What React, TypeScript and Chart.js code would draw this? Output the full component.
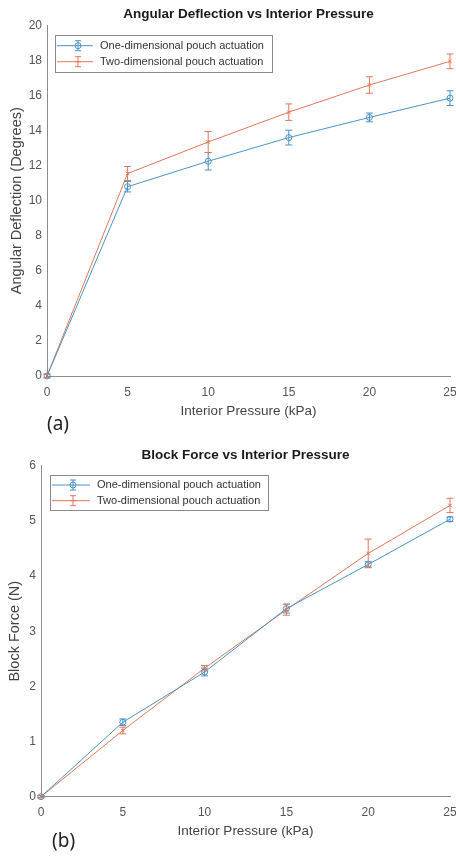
import React, { useEffect, useRef } from "react";
import { Chart, registerables } from "chart.js";
Chart.register(...registerables);

const pressure = [0, 5, 10, 15, 20, 25];
const seriesLabels = ["One-dimensional pouch actuation", "Two-dimensional pouch actuation"];

const deflection1D = [0, 10.8, 12.25, 13.6, 14.75, 15.85];
const deflection1DErr = [0.1, 0.3, 0.5, 0.42, 0.25, 0.42];
const deflection2D = [0, 11.55, 13.35, 15.05, 16.6, 17.95];
const deflection2DErr = [0.1, 0.4, 0.6, 0.47, 0.47, 0.42];

const force1D = [0, 1.35, 2.26, 3.41, 4.21, 5.03];
const force1DErr = [0.02, 0.06, 0.07, 0.08, 0.05, 0.04];
const force2D = [0, 1.2, 2.33, 3.39, 4.41, 5.28];
const force2DErr = [0.02, 0.06, 0.05, 0.1, 0.26, 0.13];

const FONT = "'Liberation Sans', Arial, sans-serif";
const BLUE = "#4a92c6";
const ORANGE = "#e0785a";
const TICK_COLOR = "#555555";
const AXIS_TITLE_COLOR = "#444444";

type ChartSpec = {
  title: string;
  yTitle: string;
  y1: number[];
  e1: number[];
  y2: number[];
  e2: number[];
  yMax: number;
  yStep: number;
  titlePad: { top: number; bottom: number };
  xAxisHeight: number;
  xTitlePadBottom: number;
  yAxisWidth: number;
  yTitlePadTop: number;
  legend: { x: number; y: number; w: number; h: number; row1: number; row2: number; lineX0: number; lineX1: number; markX: number; textX: number };
};

function buildChart(canvas: HTMLCanvasElement, spec: ChartSpec) {
  const errs = [spec.e1, spec.e2];
  const errorBarPlugin = {
    id: "errorBars",
    afterDatasetsDraw(chart: any) {
      const { ctx, scales } = chart;
      const x = scales.x;
      const y = scales.y;
      chart.data.datasets.forEach((ds: any, i: number) => {
        ctx.save();
        ctx.strokeStyle = ds.borderColor;
        ctx.lineWidth = 1;
        ds.data.forEach((p: any, j: number) => {
          const e = errs[i][j];
          const px = x.getPixelForValue(p.x);
          const top = y.getPixelForValue(p.y + e);
          const bot = y.getPixelForValue(p.y - e);
          ctx.beginPath();
          ctx.moveTo(px, top);
          ctx.lineTo(px, bot);
          ctx.moveTo(px - 3.5, top);
          ctx.lineTo(px + 3.5, top);
          ctx.moveTo(px - 3.5, bot);
          ctx.lineTo(px + 3.5, bot);
          ctx.stroke();
        });
        ctx.restore();
      });
    },
  };
  const L = spec.legend;
  const legendPlugin = {
    id: "boxLegend",
    afterDraw(chart: any) {
      const { ctx } = chart;
      ctx.save();
      ctx.fillStyle = "#ffffff";
      ctx.fillRect(L.x, L.y, L.w, L.h);
      ctx.strokeStyle = "#8a8a8a";
      ctx.lineWidth = 1;
      ctx.strokeRect(L.x + 0.5, L.y + 0.5, L.w, L.h);
      const rows = [L.row1, L.row2];
      chart.data.datasets.forEach((ds: any, i: number) => {
        const ry = rows[i];
        ctx.strokeStyle = ds.borderColor;
        ctx.lineWidth = 1;
        ctx.beginPath();
        ctx.moveTo(L.lineX0, ry);
        ctx.lineTo(L.lineX1, ry);
        ctx.moveTo(L.markX, ry - 5);
        ctx.lineTo(L.markX, ry + 5);
        ctx.moveTo(L.markX - 3, ry - 5);
        ctx.lineTo(L.markX + 3, ry - 5);
        ctx.moveTo(L.markX - 3, ry + 5);
        ctx.lineTo(L.markX + 3, ry + 5);
        ctx.stroke();
        if (i === 0) {
          ctx.beginPath();
          ctx.arc(L.markX, ry, 3, 0, Math.PI * 2);
          ctx.stroke();
        } else {
          ctx.beginPath();
          ctx.moveTo(L.markX - 3, ry);
          ctx.lineTo(L.markX + 3, ry);
          ctx.stroke();
        }
        ctx.fillStyle = "#333333";
        ctx.font = `11px ${FONT}`;
        ctx.textBaseline = "middle";
        ctx.textAlign = "left";
        ctx.fillText(ds.label, L.textX, ry);
      });
      ctx.restore();
    },
  };

  return new Chart(canvas, {
    type: "line",
    data: {
      datasets: [
        {
          label: seriesLabels[0],
          data: pressure.map((p, i) => ({ x: p, y: spec.y1[i] })),
          borderColor: BLUE,
          backgroundColor: "rgba(0,0,0,0)",
          borderWidth: 1,
          pointStyle: "circle",
          pointRadius: 3,
          pointBorderWidth: 1,
          pointBorderColor: BLUE,
          pointBackgroundColor: "rgba(0,0,0,0)",
          clip: false as any,
        },
        {
          label: seriesLabels[1],
          data: pressure.map((p, i) => ({ x: p, y: spec.y2[i] })),
          borderColor: ORANGE,
          backgroundColor: "rgba(0,0,0,0)",
          borderWidth: 1,
          pointStyle: "crossRot",
          pointRadius: 2.5,
          pointBorderWidth: 1,
          pointBorderColor: ORANGE,
          clip: false as any,
        },
      ],
    },
    options: {
      animation: false,
      responsive: false,
      maintainAspectRatio: false,
      layout: { padding: { left: 0, right: 6, top: 0, bottom: 0 } },
      plugins: {
        legend: { display: false },
        tooltip: { enabled: false },
        title: {
          display: true,
          text: spec.title,
          fullSize: false,
          color: "#1a1a1a",
          font: { family: FONT, size: 13.5, weight: "bold" },
          padding: spec.titlePad,
        },
      },
      scales: {
        x: {
          type: "linear",
          min: 0,
          max: 25,
          grid: { display: false, drawTicks: false },
          border: { display: true, color: "#8c8c8c", width: 1 },
          ticks: {
            stepSize: 5,
            padding: 9,
            color: TICK_COLOR,
            font: { family: FONT, size: 12 },
            maxRotation: 0,
          },
          title: {
            display: true,
            text: "Interior Pressure (kPa)",
            color: AXIS_TITLE_COLOR,
            font: { family: FONT, size: 13.5 },
            padding: { top: 0, bottom: spec.xTitlePadBottom },
          },
          afterFit(scale: any) {
            scale.height = spec.xAxisHeight;
            scale.paddingRight = 0;
            scale.paddingLeft = 0;
          },
        },
        y: {
          type: "linear",
          min: 0,
          max: spec.yMax,
          grid: { display: false, drawTicks: false },
          border: { display: true, color: "#8c8c8c", width: 1 },
          ticks: {
            stepSize: spec.yStep,
            padding: 5,
            color: TICK_COLOR,
            font: { family: FONT, size: 12 },
          },
          title: {
            display: true,
            text: spec.yTitle,
            color: AXIS_TITLE_COLOR,
            font: { family: FONT, size: 14.5 },
            padding: { top: spec.yTitlePadTop, bottom: 0 },
          },
          afterFit(scale: any) {
            scale.width = spec.yAxisWidth;
          },
        },
      },
    } as any,
    plugins: [errorBarPlugin, legendPlugin],
  });
}

const specA: ChartSpec = {
  title: "Angular Deflection vs Interior Pressure",
  yTitle: "Angular Deflection (Degrees)",
  y1: deflection1D,
  e1: deflection1DErr,
  y2: deflection2D,
  e2: deflection2DErr,
  yMax: 20,
  yStep: 2,
  titlePad: { top: 5.9, bottom: 3.3 },
  xAxisHeight: 54,
  xTitlePadBottom: 10.2,
  yAxisWidth: 47,
  yTitlePadTop: 8.3,
  legend: { x: 55, y: 35, w: 217, h: 37, row1: 45.7, row2: 61.7, lineX0: 57, lineX1: 93, markX: 78, textX: 100 },
};

const specB: ChartSpec = {
  title: "Block Force vs Interior Pressure",
  yTitle: "Block Force (N)",
  y1: force1D,
  e1: force1DErr,
  y2: force2D,
  e2: force2DErr,
  yMax: 6,
  yStep: 1,
  titlePad: { top: 16.9, bottom: 2.6 },
  xAxisHeight: 60.3,
  xTitlePadBottom: 17.2,
  yAxisWidth: 41,
  yTitlePadTop: 6.3,
  legend: { x: 50, y: 45, w: 218, h: 35, row1: 55, row2: 70.7, lineX0: 52, lineX1: 90, markX: 73, textX: 97 },
};

function ChartPanel({ spec, top, height }: { spec: ChartSpec; top: number; height: number }) {
  const ref = useRef<HTMLCanvasElement | null>(null);
  useEffect(() => {
    if (!ref.current) return;
    const c = buildChart(ref.current, spec);
    return () => c.destroy();
  }, [spec]);
  return (
    <canvas
      ref={ref}
      width={456}
      height={height}
      style={{ position: "absolute", left: 0, top, width: 456, height }}
    />
  );
}

export default function App() {
  return (
    <div style={{ position: "absolute", left: 0, top: 0, width: 456, height: 857, background: "#ffffff", overflow: "hidden" }}>
      <ChartPanel spec={specA} top={0} height={430} />
      <ChartPanel spec={specB} top={430} height={427} />
      <div style={{ position: "absolute", left: 47, top: 410, fontFamily: "'Noto Sans', sans-serif", fontSize: 19, lineHeight: "26px", color: "#222", zIndex: 2 }}>(a)</div>
      <div style={{ position: "absolute", left: 52, top: 827, fontFamily: "'Noto Sans', sans-serif", fontSize: 19, lineHeight: "26px", color: "#222", zIndex: 2 }}>(b)</div>
    </div>
  );
}
